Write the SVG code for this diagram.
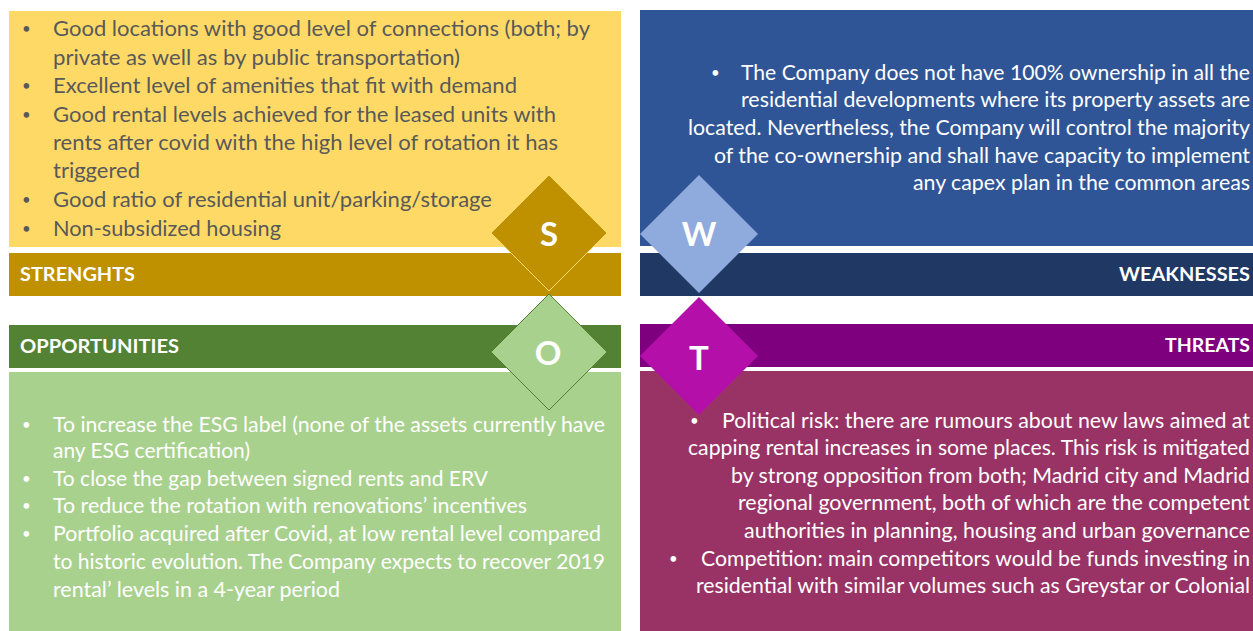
<svg xmlns="http://www.w3.org/2000/svg" width="1253" height="631" viewBox="0 0 1253 631">
<style>
.t{font-family:Lato,"Open Sans","Liberation Sans",sans-serif;font-size:21px}
.b{font-size:15px}
.g{fill:#595959}
.w{fill:#ffffff}
.h{font-family:Lato,"Open Sans","Liberation Sans",sans-serif;font-size:19px;font-weight:bold;fill:#ffffff}
.d{font-family:Lato,"Open Sans","Liberation Sans",sans-serif;font-size:33px;font-weight:bold;fill:#ffffff;text-anchor:middle}
</style>
<rect width="1253" height="631" fill="#ffffff"/>
<g id="strengths">
<rect x="9" y="11" width="612" height="236" fill="#FFD966"/>
<rect x="9" y="253" width="612" height="43" fill="#BF9000"/>
<text class="h" x="20" y="281" textLength="115" lengthAdjust="spacingAndGlyphs">STRENGHTS</text>
<g class="t g">
<text class="b" x="22" y="34">•</text><text x="53" y="36" textLength="537" lengthAdjust="spacingAndGlyphs">Good locations with good level of connections (both; by</text>
<text x="53" y="65" textLength="407" lengthAdjust="spacingAndGlyphs">private as well as by public transportation)</text>
<text class="b" x="22" y="91">•</text><text x="53" y="93" textLength="464" lengthAdjust="spacingAndGlyphs">Excellent level of amenities that fit with demand</text>
<text class="b" x="22" y="120">•</text><text x="53" y="122" textLength="503" lengthAdjust="spacingAndGlyphs">Good rental levels achieved for the leased units with</text>
<text x="53" y="150" textLength="505" lengthAdjust="spacingAndGlyphs">rents after covid with the high level of rotation it has</text>
<text x="53" y="178" textLength="87" lengthAdjust="spacingAndGlyphs">triggered</text>
<text class="b" x="22" y="205">•</text><text x="53" y="207" textLength="439" lengthAdjust="spacingAndGlyphs">Good ratio of residential unit/parking/storage</text>
<text class="b" x="22" y="234">•</text><text x="53" y="236" textLength="228" lengthAdjust="spacingAndGlyphs">Non-subsidized housing</text>
</g>
</g>
<g id="weaknesses">
<rect x="640" y="10" width="613" height="236" fill="#2F5597"/>
<rect x="640" y="253" width="613" height="43" fill="#203864"/>
<text class="h" x="1119" y="281" textLength="131" lengthAdjust="spacingAndGlyphs">WEAKNESSES</text>
<g class="t w">
<text class="b" x="711" y="78">•</text><text x="741" y="80" textLength="509" lengthAdjust="spacingAndGlyphs">The Company does not have 100% ownership in all the</text>
<text x="741" y="107" textLength="509" lengthAdjust="spacingAndGlyphs">residential developments where its property assets are</text>
<text x="688" y="135" textLength="562" lengthAdjust="spacingAndGlyphs">located. Nevertheless, the Company will control the majority</text>
<text x="714" y="163" textLength="536" lengthAdjust="spacingAndGlyphs">of the co-ownership and shall have capacity to implement</text>
<text x="913" y="190" textLength="337" lengthAdjust="spacingAndGlyphs">any capex plan in the common areas</text>
</g>
</g>
<g id="opportunities">
<rect x="9" y="325" width="612" height="43" fill="#548235"/>
<rect x="9" y="372" width="612" height="259" fill="#A9D18E"/>
<text class="h" x="20" y="353" textLength="159" lengthAdjust="spacingAndGlyphs">OPPORTUNITIES</text>
<g class="t w">
<text class="b" x="22" y="430">•</text><text x="53" y="432" textLength="552" lengthAdjust="spacingAndGlyphs">To increase the ESG label (none of the assets currently have</text>
<text x="53" y="458" textLength="197" lengthAdjust="spacingAndGlyphs">any ESG certification)</text>
<text class="b" x="22" y="484">•</text><text x="53" y="486" textLength="435" lengthAdjust="spacingAndGlyphs">To close the gap between signed rents and ERV</text>
<text class="b" x="22" y="511">•</text><text x="53" y="513" textLength="474" lengthAdjust="spacingAndGlyphs">To reduce the rotation with renovations’ incentives</text>
<text class="b" x="22" y="539">•</text><text x="53" y="541" textLength="548" lengthAdjust="spacingAndGlyphs">Portfolio acquired after Covid, at low rental level compared</text>
<text x="53" y="569" textLength="552" lengthAdjust="spacingAndGlyphs">to historic evolution. The Company expects to recover 2019</text>
<text x="53" y="597" textLength="287" lengthAdjust="spacingAndGlyphs">rental’ levels in a 4-year period</text>
</g>
</g>
<g id="threats">
<rect x="640" y="324" width="613" height="43" fill="#7F007F"/>
<rect x="640" y="371" width="613" height="260" fill="#993366"/>
<text class="h" x="1165" y="352" textLength="85" lengthAdjust="spacingAndGlyphs">THREATS</text>
<g class="t w">
<text class="b" x="690" y="426">•</text><text x="722" y="428" textLength="528" lengthAdjust="spacingAndGlyphs">Political risk: there are rumours about new laws aimed at</text>
<text x="688" y="455" textLength="562" lengthAdjust="spacingAndGlyphs">capping rental increases in some places. This risk is mitigated</text>
<text x="731" y="483" textLength="519" lengthAdjust="spacingAndGlyphs">by strong opposition from both; Madrid city and Madrid</text>
<text x="738" y="510" textLength="512" lengthAdjust="spacingAndGlyphs">regional government, both of which are the competent</text>
<text x="744" y="538" textLength="506" lengthAdjust="spacingAndGlyphs">authorities in planning, housing and urban governance</text>
<text class="b" x="669" y="564">•</text><text x="701" y="566" textLength="549" lengthAdjust="spacingAndGlyphs">Competition: main competitors would be funds investing in</text>
<text x="696" y="593" textLength="554" lengthAdjust="spacingAndGlyphs">residential with similar volumes such as Greystar or Colonial</text>
</g>
</g>
<g id="diamond-s">
<polygon points="549,175 607,233 549,291 491,233" fill="#BF9000" stroke="#FFD966" stroke-width="1"/>
<text class="d" x="549" y="246">S</text>
</g>
<g id="diamond-w">
<polygon points="699,175 758,234 699,293 640,234" fill="#8FAADC"/>
<text class="d" x="699" y="246">W</text>
</g>
<g id="diamond-o">
<polygon points="549,294 607,352 549,410 491,352" fill="#A9D18E" stroke="#548235" stroke-width="1"/>
<text class="d" x="548" y="365">O</text>
</g>
<g id="diamond-t">
<polygon points="699,297 758,356 699,415 640,356" fill="#B410A9"/>
<text class="d" x="699" y="370">T</text>
</g>
</svg>
